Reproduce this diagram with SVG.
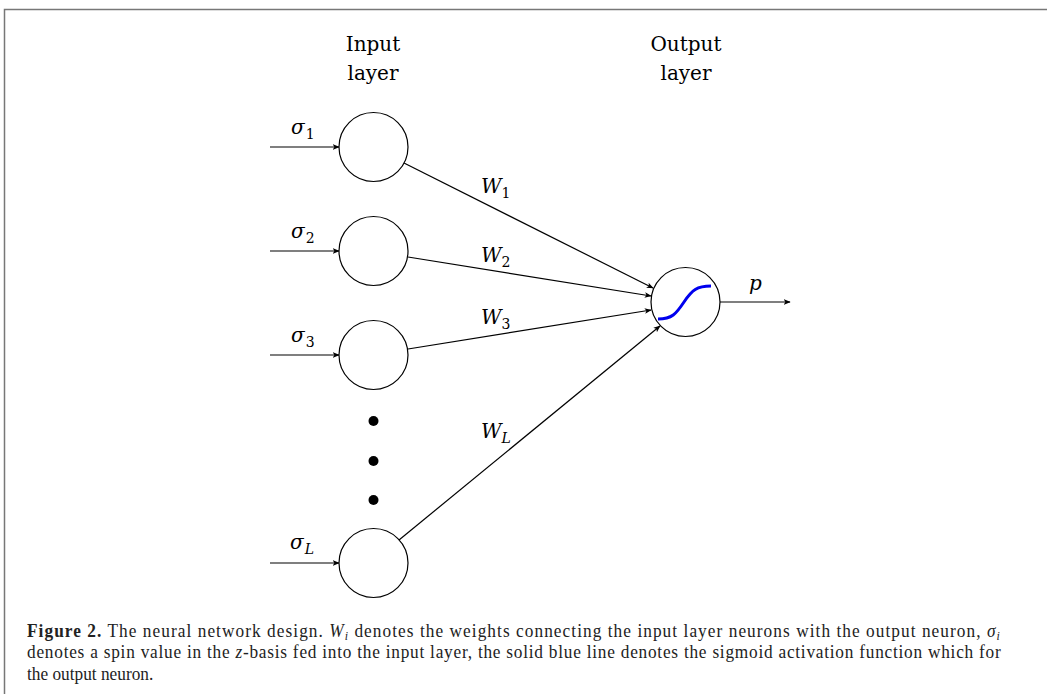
<svg xmlns="http://www.w3.org/2000/svg" width="1047" height="694" viewBox="0 0 1047 694">
  <style>
    .node { fill: #fff; stroke: #000; stroke-width: 1.2; }
    .edge { stroke: #000; stroke-width: 1.2; fill: none; }
    .title { font-family: "DejaVu Serif", serif; font-size: 20px; text-anchor: middle; fill: #000; }
    .math { font-family: "DejaVu Serif", serif; font-style: italic; font-size: 20px; fill: #000; }
    .sub { font-family: "DejaVu Serif", serif; font-style: normal; font-size: 14px; }
    .subi { font-family: "DejaVu Serif", serif; font-style: italic; font-size: 14px; }
    .cap { font-family: "Liberation Serif", serif; font-size: 19px; fill: #222; }
  </style>
  <defs>
    <marker id="arrow" viewBox="0 0 10 10" refX="9" refY="5" markerWidth="7" markerHeight="7" orient="auto" markerUnits="userSpaceOnUse">
      <path d="M0,1 L10,5 L0,9 L2.5,5 Z" fill="#000"/>
    </marker>
  </defs>

  <rect width="1047" height="694" fill="#fff"/>
  <!-- figure frame -->
  <path d="M4.5,694 V9.5 H1047" fill="none" stroke="#777" stroke-width="1.5"/>

  <!-- layer titles -->
  <text class="title" x="373" y="51">Input</text>
  <text class="title" x="373" y="80">layer</text>
  <text class="title" x="686" y="51">Output</text>
  <text class="title" x="686" y="80">layer</text>

  <!-- connectors -->
  <g id="connectors">
    <line class="edge" x1="270" y1="147" x2="339" y2="147" marker-end="url(#arrow)"/>
    <line class="edge" x1="270" y1="251" x2="339" y2="251" marker-end="url(#arrow)"/>
    <line class="edge" x1="270" y1="355" x2="339" y2="355" marker-end="url(#arrow)"/>
    <line class="edge" x1="270" y1="563" x2="339" y2="563" marker-end="url(#arrow)"/>
    <line class="edge" x1="404" y1="163" x2="653" y2="288" marker-end="url(#arrow)"/>
    <line class="edge" x1="408" y1="257" x2="651" y2="296" marker-end="url(#arrow)"/>
    <line class="edge" x1="408" y1="349" x2="651" y2="310" marker-end="url(#arrow)"/>
    <line class="edge" x1="399" y1="540" x2="660" y2="326" marker-end="url(#arrow)"/>
    <line class="edge" x1="720" y1="302" x2="790" y2="302" marker-end="url(#arrow)"/>
  </g>

  <!-- input neurons -->
  <g id="in1">
    <circle class="node" cx="373.5" cy="147" r="34.5"/>
    <text class="math" x="291" y="134">σ<tspan class="sub" dx="1" dy="5">1</tspan></text>
  </g>
  <g id="in2">
    <circle class="node" cx="373.5" cy="251" r="34.5"/>
    <text class="math" x="291" y="238">σ<tspan class="sub" dx="1" dy="5">2</tspan></text>
  </g>
  <g id="in3">
    <circle class="node" cx="373.5" cy="355" r="34.5"/>
    <text class="math" x="291" y="342">σ<tspan class="sub" dx="1" dy="5">3</tspan></text>
  </g>
  <g id="ellipsis">
    <circle cx="373.5" cy="421" r="5" fill="#000"/>
    <circle cx="373.5" cy="461" r="5" fill="#000"/>
    <circle cx="373.5" cy="500" r="5" fill="#000"/>
  </g>
  <g id="inL">
    <circle class="node" cx="373.5" cy="563" r="34.5"/>
    <text class="math" x="290" y="549">σ<tspan class="subi" dx="1" dy="5">L</tspan></text>
  </g>

  <!-- weight labels -->
  <g id="weights">
    <text class="math" x="481" y="193">W<tspan class="sub" dx="0" dy="5">1</tspan></text>
    <text class="math" x="481" y="262">W<tspan class="sub" dx="0" dy="5">2</tspan></text>
    <text class="math" x="481" y="324">W<tspan class="sub" dx="0" dy="5">3</tspan></text>
    <text class="math" x="481" y="438">W<tspan class="subi" dx="0" dy="5">L</tspan></text>
  </g>

  <!-- output neuron -->
  <g id="out">
    <circle class="node" cx="685.5" cy="302" r="34.5"/>
    <path d="M658,319 C672,319 676,314 684,302 C692,290 697,286 711,286" fill="none" stroke="#0000ee" stroke-width="3"/>
    <text class="math" x="749" y="290">p</text>
  </g>

  <!-- caption: condensed serif, justified lines -->
  <g id="caption" transform="scale(0.91,1)">
    <text class="cap" x="29.7" y="637" textLength="1069" lengthAdjust="spacing"><tspan font-weight="bold">Figure 2.</tspan>  The neural network design. <tspan font-style="italic">W<tspan font-size="13" dy="3">i</tspan></tspan><tspan dy="-3"> denotes the weights connecting the input layer neurons with the output neuron, </tspan><tspan font-style="italic">σ<tspan font-size="13" dy="3">i</tspan></tspan></text>
    <text class="cap" x="29.7" y="658" textLength="1070" lengthAdjust="spacing">denotes a spin value in the <tspan font-style="italic">z</tspan>-basis fed into the input layer, the solid blue line denotes the sigmoid activation function which for</text>
    <text class="cap" x="29.7" y="680">the output neuron.</text>
  </g>
</svg>
